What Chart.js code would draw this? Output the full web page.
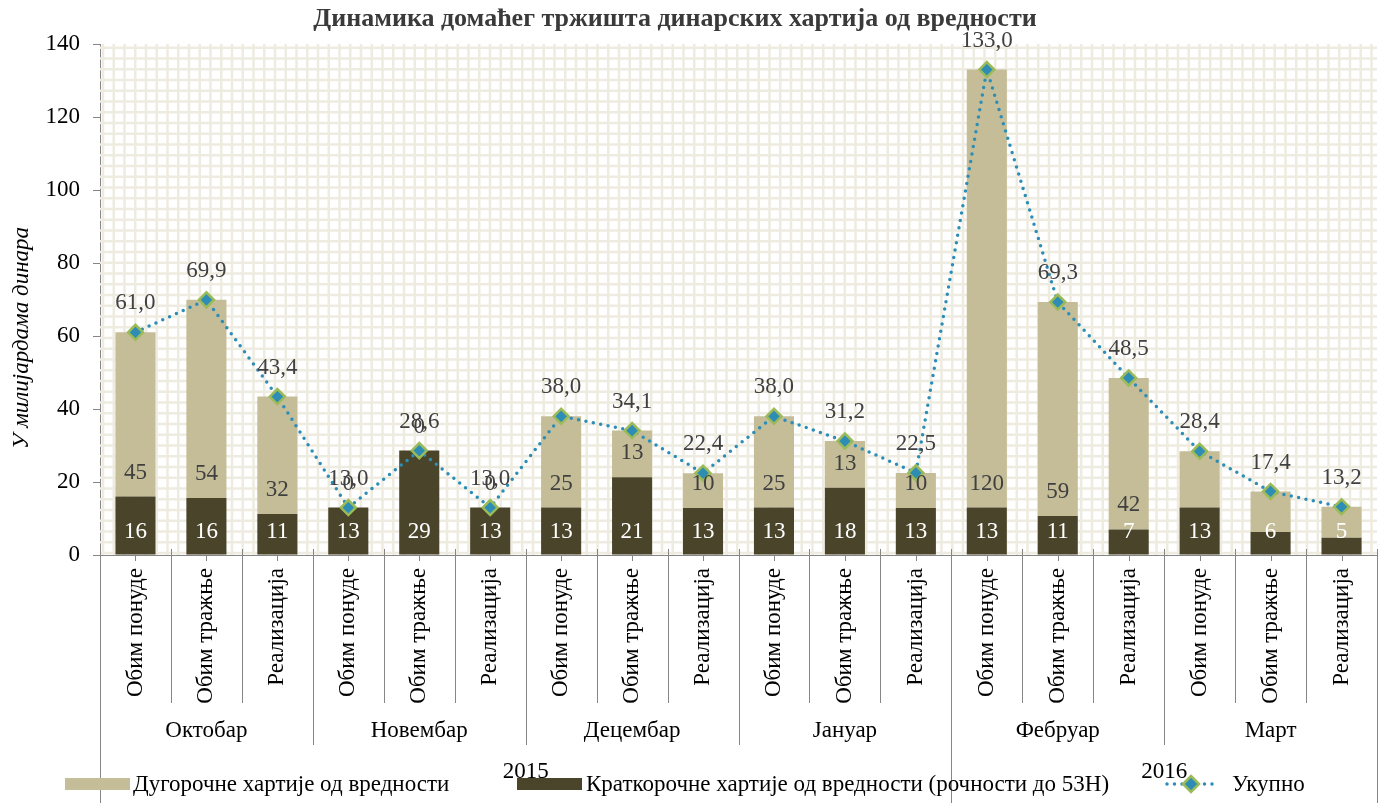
<!DOCTYPE html>
<html>
<head>
<meta charset="utf-8">
<script src="https://cdn.jsdelivr.net/npm/chart.js@4.4.1/dist/chart.umd.min.js"></script>
<style>
    html, body { margin: 0; padding: 0; background: #fff; }
    #wrap { width: 1387px; height: 803px; position: relative; }
</style>
</head>
<body>
<div id="wrap"><canvas id="chart"></canvas></div>
<script>
// Categories and groups as they appear on the axis
const categories = [
    'Обим понуде', 'Обим тражње', 'Реализација',
    'Обим понуде', 'Обим тражње', 'Реализација',
    'Обим понуде', 'Обим тражње', 'Реализација',
    'Обим понуде', 'Обим тражње', 'Реализација',
    'Обим понуде', 'Обим тражње', 'Реализација',
    'Обим понуде', 'Обим тражње', 'Реализација'
];
const months = ['Октобар', 'Новембар', 'Децембар', 'Јануар', 'Фебруар', 'Март'];
const years = ['2015', '2016'];
const monthsPerYear = [4, 2]; // grouping as drawn in the source chart

// Values, billions of dinars
const shortTerm = [16.0, 15.6, 11.2, 13.0, 28.6, 13.0, 13.0, 21.3, 12.9, 13.0, 18.4, 12.9, 13.0, 10.7, 7.0, 13.0, 6.3, 4.7];
const longTerm = [45.0, 54.3, 32.2, 0, 0, 0, 25.0, 12.8, 9.5, 25.0, 12.8, 9.6, 120.0, 58.6, 41.5, 15.4, 11.1, 8.5];
const total = [61.0, 69.9, 43.4, 13.0, 28.6, 13.0, 38.0, 34.1, 22.4, 38.0, 31.2, 22.5, 133.0, 69.3, 48.5, 28.4, 17.4, 13.2];
// the source leaves the March long-term segments unlabelled
const longLabelled = [1, 1, 1, 1, 1, 1, 1, 1, 1, 1, 1, 1, 1, 1, 1, 0, 0, 0];

const yTicks = [0, 20, 40, 60, 80, 100, 120, 140];

const colors = {
    long: '#C4BD97',
    short: '#4A452A',
    line: '#2C8DB6',
    marker: '#2E8DB4',
    markerBorder: '#9BBB59',
    grid: '#EEEBE0',
    axis: '#868686',
    label: '#404040'
};
const serif = "'Liberation Serif', 'Times New Roman', serif";

// background grid pattern inside the plot area
const patternBg = {
    id: 'patternBg',
    beforeDatasetsDraw(chart) {
        const { ctx, chartArea: a } = chart;
        const step = 10.75;
        ctx.save();
        ctx.beginPath();
        ctx.rect(a.left, a.top, a.right - a.left, a.bottom - a.top);
        ctx.clip();
        ctx.strokeStyle = colors.grid;
        ctx.lineWidth = 2.5;
        ctx.beginPath();
        for (let x = a.left + 3; x < a.right; x += step) {
            ctx.moveTo(x, a.top);
            ctx.lineTo(x, a.bottom);
        }
        for (let y = a.bottom - 2; y > a.top; y -= step) {
            ctx.moveTo(a.left, y);
            ctx.lineTo(a.right, y);
        }
        ctx.stroke();
        ctx.restore();
    }
};

// value labels
const valueLabels = {
    id: 'valueLabels',
    afterDatasetsDraw(chart) {
        const { ctx } = chart;
        ctx.save();
        ctx.font = '23px ' + serif;
        ctx.textAlign = 'center';
        ctx.textBaseline = 'middle';
        const shortMeta = chart.getDatasetMeta(1);
        const longMeta = chart.getDatasetMeta(2);
        const lineMeta = chart.getDatasetMeta(0);
        shortMeta.data.forEach((el, i) => {
            ctx.fillStyle = '#ffffff';
            ctx.fillText(String(Math.round(shortTerm[i])), el.x, el.base - 23);
        });
        longMeta.data.forEach((el, i) => {
            if (!longLabelled[i]) return;
            ctx.fillStyle = colors.label;
            ctx.fillText(String(Math.round(longTerm[i])), el.x, el.base - 24);
        });
        lineMeta.data.forEach((el, i) => {
            ctx.fillStyle = colors.label;
            ctx.fillText(total[i].toFixed(1).replace('.', ','), el.x, el.y - 29);
        });
        ctx.restore();
    }
};

// title, axis title, multi-level axis groups and legend
const decorations = {
    id: 'decorations',
    afterDraw(chart) {
        const { ctx } = chart;
        const xs = chart.scales.x;
        const top = xs.top;
        const half = (xs.getPixelForValue(1) - xs.getPixelForValue(0)) / 2;
        const edge = i => i < categories.length ? xs.getPixelForValue(i) - half : xs.getPixelForValue(categories.length - 1) + half;

        ctx.save();
        // title
        ctx.fillStyle = '#3a3a3a';
        ctx.font = 'bold 26px ' + serif;
        ctx.textAlign = 'center';
        ctx.textBaseline = 'middle';
        ctx.fillText('Динамика домаћег тржишта динарских хартија од вредности', 675, 19);

        // y axis title
        ctx.save();
        ctx.translate(22, 338);
        ctx.rotate(-Math.PI / 2);
        ctx.fillStyle = '#000000';
        ctx.font = 'italic 23px ' + serif;
        ctx.fillText('У милијардама динара', 0, 0);
        ctx.restore();

        // separators
        const yearEdges = [0];
        monthsPerYear.reduce((acc, m) => { yearEdges.push((acc + m) * 3); return acc + m; }, 0);
        ctx.strokeStyle = colors.axis;
        ctx.lineWidth = 1;
        ctx.beginPath();
        for (let i = 0; i <= categories.length; i++) {
            const x = Math.round(edge(i)) + 0.5;
            let bottom = 703;
            if (yearEdges.includes(i)) bottom = 803;
            else if (i % 3 === 0) bottom = 745;
            ctx.moveTo(x, top - 6);
            ctx.lineTo(x, bottom);
        }
        for (let i = 0; i < categories.length; i++) {
            const x = Math.round(xs.getPixelForValue(i)) + 0.5;
            ctx.moveTo(x, top);
            ctx.lineTo(x, top + 6);
        }
        ctx.stroke();

        // month labels
        ctx.fillStyle = '#000000';
        ctx.font = '23px ' + serif;
        months.forEach((m, k) => {
            const cx = (edge(k * 3) + edge(k * 3 + 3)) / 2;
            ctx.fillText(m, cx, 731);
        });
        // year labels
        let start = 0;
        years.forEach((yr, k) => {
            const end = start + monthsPerYear[k] * 3;
            ctx.fillText(yr, (edge(start) + edge(end)) / 2, 772);
            start = end;
        });

        // legend
        const ly = 784;
        ctx.textAlign = 'left';
        ctx.fillStyle = colors.long;
        ctx.fillRect(65, ly - 6, 65, 12);
        ctx.fillStyle = '#000000';
        ctx.fillText('Дугорочне хартије од вредности', 133, ly + 1);
        ctx.fillStyle = colors.short;
        ctx.fillRect(517, ly - 6, 65, 12);
        ctx.fillStyle = '#000000';
        ctx.fillText('Краткорочне хартије од вредности (рочности до 53Н)', 586, ly + 1);
        ctx.strokeStyle = colors.line;
        ctx.lineWidth = 3.5;
        ctx.lineCap = 'round';
        ctx.setLineDash([0, 7.5]);
        ctx.beginPath();
        ctx.moveTo(1167, ly);
        ctx.lineTo(1216, ly);
        ctx.stroke();
        ctx.setLineDash([]);
        ctx.beginPath();
        ctx.moveTo(1191, ly - 8);
        ctx.lineTo(1199, ly);
        ctx.lineTo(1191, ly + 8);
        ctx.lineTo(1183, ly);
        ctx.closePath();
        ctx.fillStyle = colors.marker;
        ctx.fill();
        ctx.lineWidth = 2.5;
        ctx.strokeStyle = colors.markerBorder;
        ctx.stroke();
        ctx.fillStyle = '#000000';
        ctx.fillText('Укупно', 1232, ly + 1);
        ctx.restore();
    }
};

new Chart(document.getElementById('chart'), {
    data: {
        labels: categories,
        datasets: [{
            type: 'line',
            label: 'Укупно',
            data: total,
            stack: 'line',
            order: 0,
            borderColor: colors.line,
            borderWidth: 3.5,
            borderDash: [0, 7.5],
            borderCapStyle: 'round',
            tension: 0,
            pointStyle: 'rectRot',
            pointRadius: 7.5,
            pointBackgroundColor: colors.marker,
            pointBorderColor: colors.markerBorder,
            pointBorderWidth: 2.5
        }, {
            type: 'bar',
            label: 'Краткорочне хартије од вредности (рочности до 53Н)',
            data: shortTerm,
            stack: 'bars',
            order: 1,
            backgroundColor: colors.short,
            barPercentage: 0.565,
            categoryPercentage: 1
        }, {
            type: 'bar',
            label: 'Дугорочне хартије од вредности',
            data: longTerm,
            stack: 'bars',
            order: 1,
            backgroundColor: colors.long,
            barPercentage: 0.565,
            categoryPercentage: 1
        }]
    },
    options: {
        responsive: true,
        maintainAspectRatio: false,
        animation: false,
        layout: { padding: { top: 44, right: 7, left: 0, bottom: 0 } },
        plugins: {
            legend: { display: false },
            tooltip: { enabled: false }
        },
        scales: {
            x: {
                stacked: true,
                offset: true,
                grid: { display: false, drawTicks: false },
                border: { display: true, color: colors.axis },
                ticks: {
                    minRotation: 90,
                    maxRotation: 90,
                    autoSkip: false,
                    padding: 13,
                    color: '#000000',
                    font: { family: serif, size: 23 }
                },
                afterFit: scale => { scale.height = 248; }
            },
            y: {
                stacked: true,
                min: 0,
                max: 140,
                afterBuildTicks: scale => { scale.ticks = yTicks.map(v => ({ value: v })); },
                grid: { drawOnChartArea: false, drawTicks: true, tickLength: 7, color: colors.axis },
                border: { display: true, color: colors.axis },
                ticks: {
                    padding: 13,
                    color: '#000000',
                    font: { family: serif, size: 23 }
                },
                afterFit: scale => { scale.width = 100; }
            }
        }
    },
    plugins: [patternBg, valueLabels, decorations]
});
</script>
</body>
</html>
